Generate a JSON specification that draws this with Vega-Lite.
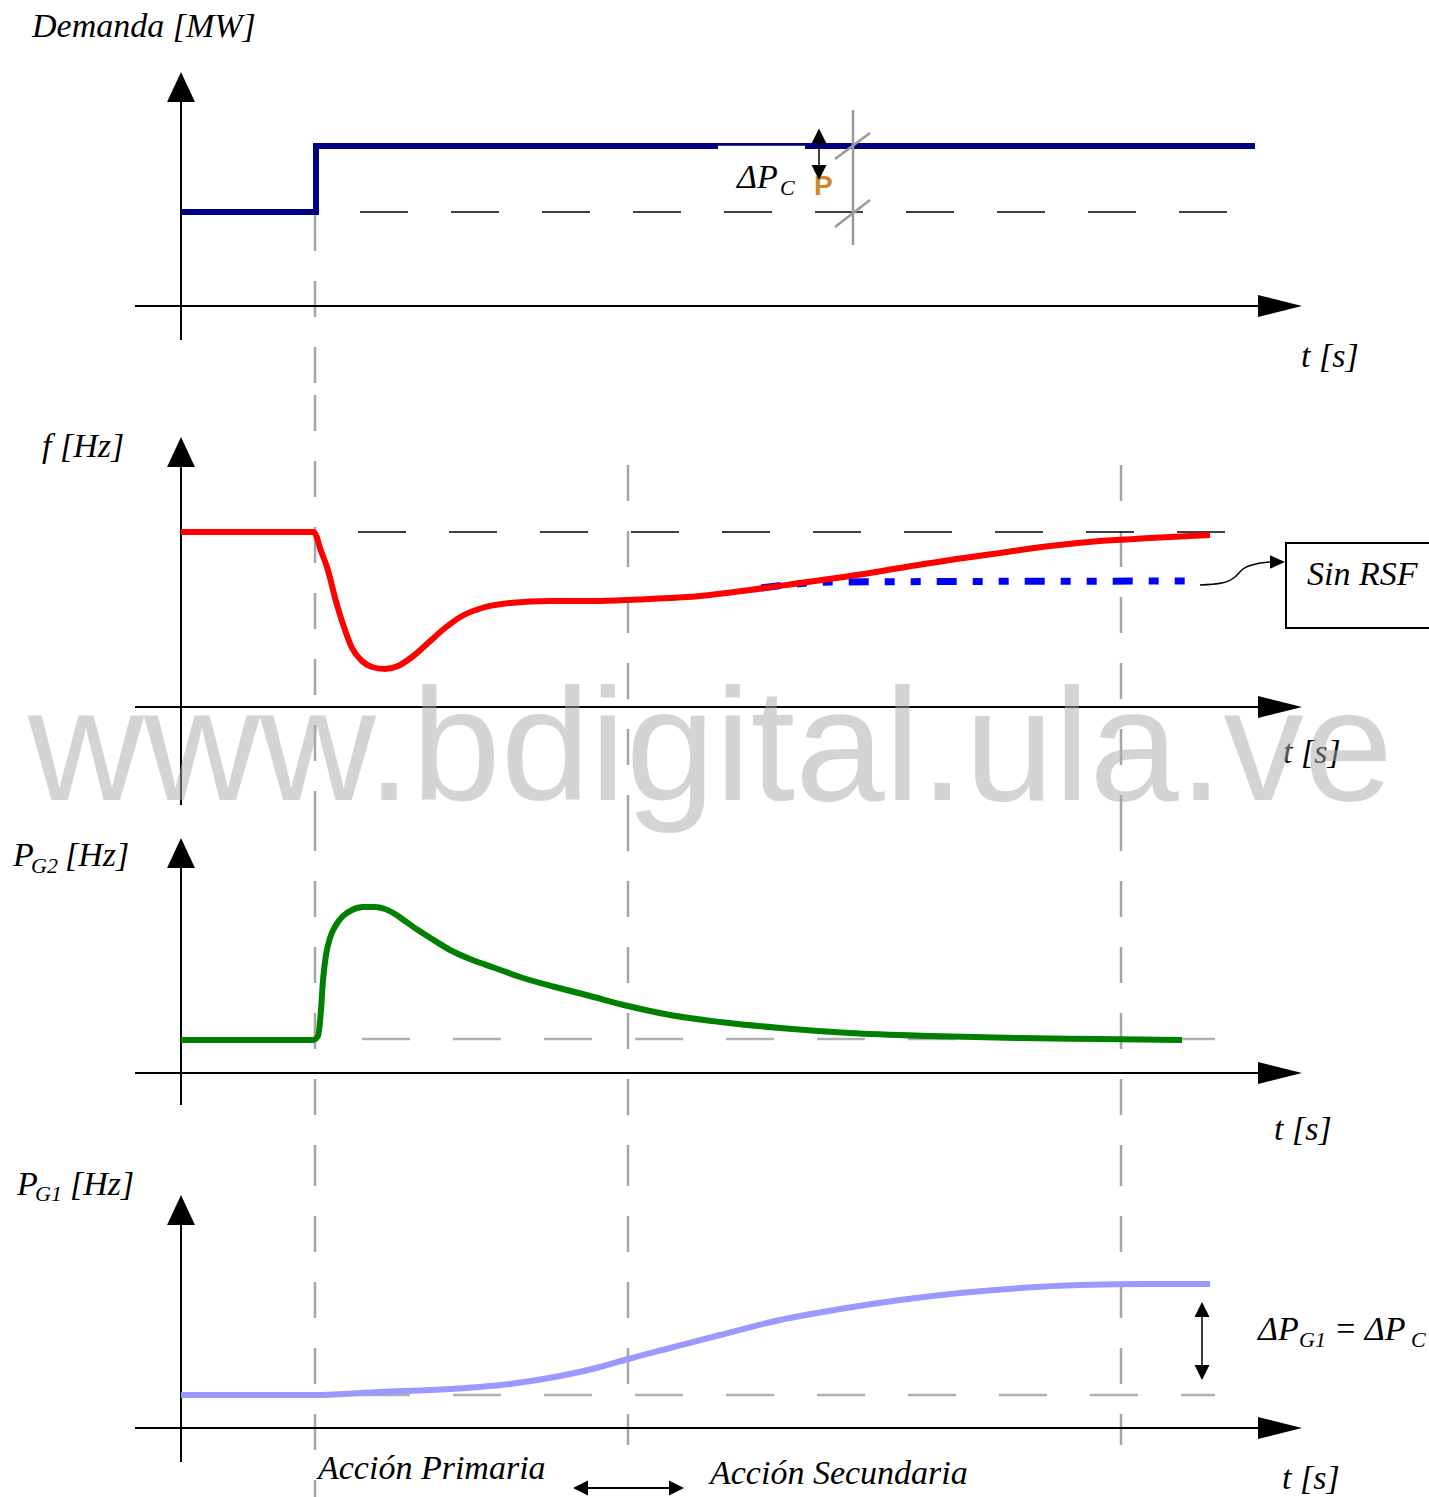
{
  "$schema": "https://vega.github.io/schema/vega-lite/v6.json",
  "padding": 0,
  "spacing": 0,
  "bounds": "flush",
  "background": "white",
  "config": {
    "view": {"stroke": null},
    "text": {"font": "Liberation Serif", "fontStyle": "italic", "align": "left", "baseline": "alphabetic", "color": "black"}
  },
  "vconcat": [
    {
      "width": 1429,
      "height": 395,
      "encoding": {
        "x": {"field": "t", "type": "quantitative", "scale": {"domain": [-18.1, 124.8], "nice": false, "zero": false}, "axis": null},
        "y": {"field": "v", "type": "quantitative", "scale": {"domain": [-8.9, 30.6], "nice": false, "zero": false}, "axis": null}
      },
      "layer": [
        {
          "data": {"values": [{"t": 13.4, "v": 9.1, "v2": -8.9}]},
          "mark": {"type": "rule", "color": "#a6a6a6", "strokeWidth": 2.5, "strokeDash": [36, 30]},
          "encoding": {"y2": {"field": "v2"}}
        },
        {
          "data": {"values": [{"t": 17.9, "t2": 104.6, "v": 9.4}]},
          "mark": {"type": "rule", "color": "black", "strokeWidth": 1.5, "strokeDash": [48, 43]},
          "encoding": {"x2": {"field": "t2"}}
        },
        {
          "data": {"values": [{"t": 0, "v": -3.4, "v2": 21.1}]},
          "mark": {"type": "rule", "color": "black", "strokeWidth": 2},
          "encoding": {"y2": {"field": "v2"}}
        },
        {
          "data": {"values": [{"t": -4.6, "t2": 108.0, "v": 0}]},
          "mark": {"type": "rule", "color": "black", "strokeWidth": 2},
          "encoding": {"x2": {"field": "t2"}}
        },
        {
          "data": {"values": [{"t": 0, "v": 21.9}]},
          "mark": {"type": "point", "shape": "M0,-1L-0.93,1L0.93,1Z", "size": 900, "filled": true, "color": "black", "opacity": 1}
        },
        {
          "data": {"values": [{"t": 109.9, "v": 0}]},
          "mark": {"type": "point", "shape": "M1,0L-1,-0.5L-1,0.5Z", "size": 1936, "filled": true, "color": "black", "opacity": 1}
        },
        {
          "data": {"values": [
            {"t": 0, "v": 9.4},
            {"t": 13.5, "v": 9.4},
            {"t": 13.5, "v": 16.0},
            {"t": 107.4, "v": 16.0}
          ]},
          "mark": {"type": "line", "color": "#000080", "strokeWidth": 6, "strokeJoin": "miter"}
        },
        {
          "data": {"values": [{"t": 53.7, "t2": 62.4, "v": 15.8}]},
          "mark": {"type": "rule", "color": "white", "strokeWidth": 4.5},
          "encoding": {"x2": {"field": "t2"}}
        },
        {
          "data": {"values": [{"t": 67.2, "v": 19.6, "v2": 6.1}]},
          "mark": {"type": "rule", "color": "#9a9a9a", "strokeWidth": 2.5},
          "encoding": {"y2": {"field": "v2"}}
        },
        {
          "data": {"values": [
            {"t": 65.4, "v": 14.7, "t2": 68.9, "v2": 17.3},
            {"t": 65.4, "v": 7.9, "t2": 68.9, "v2": 10.6}
          ]},
          "mark": {"type": "rule", "color": "#9a9a9a", "strokeWidth": 2.5},
          "encoding": {"x2": {"field": "t2"}, "y2": {"field": "v2"}}
        },
        {
          "data": {"values": [{"t": 63.3, "v": 11.1, "label": "P"}]},
          "mark": {"type": "text", "font": "Liberation Sans", "fontStyle": "normal", "fontWeight": "bold", "fontSize": 28, "color": "#c98a2e"},
          "encoding": {"text": {"field": "label"}}
        },
        {
          "data": {"values": [{"t": 63.8, "v": 16.6, "v2": 13.8}]},
          "mark": {"type": "rule", "color": "black", "strokeWidth": 1.5},
          "encoding": {"y2": {"field": "v2"}}
        },
        {
          "data": {"values": [{"t": 63.8, "v": 17.0}]},
          "mark": {"type": "point", "shape": "M0,-1L-1,1L1,1Z", "size": 225, "filled": true, "color": "black", "opacity": 1}
        },
        {
          "data": {"values": [{"t": 63.8, "v": 13.35}]},
          "mark": {"type": "point", "shape": "M0,1L-1,-1L1,-1Z", "size": 225, "filled": true, "color": "black", "opacity": 1}
        },
        {
          "data": {"values": [
            {"t": -14.9, "v": 26.9, "label": "Demanda [MW]"},
            {"t": 112.0, "v": -6.1, "label": "t [s]"},
            {"t": 55.6, "v": 11.8, "label": "ΔP"}
          ]},
          "mark": {"type": "text", "fontSize": 34},
          "encoding": {"text": {"field": "label"}}
        },
        {
          "data": {"values": [{"t": 59.9, "v": 11.1, "label": "C"}]},
          "mark": {"type": "text", "fontSize": 22},
          "encoding": {"text": {"field": "label"}}
        }
      ]
    },
    {
      "width": 1429,
      "height": 420,
      "encoding": {
        "x": {"field": "t", "type": "quantitative", "scale": {"domain": [-18.1, 124.8], "nice": false, "zero": false}, "axis": null},
        "y": {"field": "v", "type": "quantitative", "scale": {"domain": [-10.8, 31.2], "nice": false, "zero": false}, "axis": null}
      },
      "layer": [
        {
          "data": {"values": [
            {"t": 13.4, "v": 31.2, "v2": -10.8},
            {"t": 44.7, "v": 24.2, "v2": -10.8},
            {"t": 94.0, "v": 24.2, "v2": -10.8}
          ]},
          "mark": {"type": "rule", "color": "#a6a6a6", "strokeWidth": 2.5, "strokeDash": [36, 30]},
          "encoding": {"y2": {"field": "v2"}}
        },
        {
          "data": {"values": [{"t": 17.7, "t2": 104.4, "v": 17.5}]},
          "mark": {"type": "rule", "color": "black", "strokeWidth": 1.5, "strokeDash": [48, 43]},
          "encoding": {"x2": {"field": "t2"}}
        },
        {
          "data": {"values": [{"t": 0, "v": -9.8, "v2": 24.7}]},
          "mark": {"type": "rule", "color": "black", "strokeWidth": 2},
          "encoding": {"y2": {"field": "v2"}}
        },
        {
          "data": {"values": [{"t": -4.6, "t2": 108.0, "v": 0}]},
          "mark": {"type": "rule", "color": "black", "strokeWidth": 2},
          "encoding": {"x2": {"field": "t2"}}
        },
        {
          "data": {"values": [{"t": 0, "v": 25.5}]},
          "mark": {"type": "point", "shape": "M0,-1L-0.93,1L0.93,1Z", "size": 900, "filled": true, "color": "black", "opacity": 1}
        },
        {
          "data": {"values": [{"t": 109.9, "v": 0}]},
          "mark": {"type": "point", "shape": "M1,0L-1,-0.5L-1,0.5Z", "size": 1936, "filled": true, "color": "black", "opacity": 1}
        },
        {
          "data": {"values": [
            {"t": 58.0, "v": 11.9},
            {"t": 61.5, "v": 12.3},
            {"t": 65.0, "v": 12.5},
            {"t": 101.9, "v": 12.6}
          ]},
          "mark": {"type": "line", "color": "#0000ff", "strokeWidth": 7, "strokeDash": [20, 16, 10, 16, 10, 16], "interpolate": "monotone"}
        },
        {
          "data": {"values": [
            {"t": 0, "v": 17.5},
            {"t": 13.2, "v": 17.5},
            {"t": 13.5, "v": 17.2},
            {"t": 13.9, "v": 15.9},
            {"t": 14.6, "v": 14.0},
            {"t": 15.6, "v": 10.2},
            {"t": 16.4, "v": 7.7},
            {"t": 17.1, "v": 5.9},
            {"t": 18.1, "v": 4.6},
            {"t": 19.1, "v": 4.0},
            {"t": 20.4, "v": 3.8},
            {"t": 21.7, "v": 4.1},
            {"t": 23.1, "v": 5.0},
            {"t": 24.7, "v": 6.4},
            {"t": 26.4, "v": 7.9},
            {"t": 28.1, "v": 9.1},
            {"t": 30.1, "v": 9.9},
            {"t": 32.9, "v": 10.4},
            {"t": 36.9, "v": 10.6},
            {"t": 41.9, "v": 10.6},
            {"t": 46.9, "v": 10.8},
            {"t": 51.9, "v": 11.1},
            {"t": 56.9, "v": 11.7},
            {"t": 61.9, "v": 12.4},
            {"t": 66.9, "v": 13.1},
            {"t": 71.9, "v": 13.9},
            {"t": 76.9, "v": 14.7},
            {"t": 81.9, "v": 15.4},
            {"t": 86.9, "v": 16.1},
            {"t": 91.9, "v": 16.6},
            {"t": 96.9, "v": 16.9},
            {"t": 102.9, "v": 17.2}
          ]},
          "mark": {"type": "line", "color": "#ff0000", "strokeWidth": 6, "interpolate": "monotone"}
        },
        {
          "data": {"values": [
            {"t": 101.9, "v": 12.2},
            {"t": 104.1, "v": 12.4},
            {"t": 105.4, "v": 13.0},
            {"t": 106.2, "v": 13.8},
            {"t": 107.5, "v": 14.3},
            {"t": 109.3, "v": 14.5}
          ]},
          "mark": {"type": "line", "color": "black", "strokeWidth": 1.5, "interpolate": "monotone"}
        },
        {
          "data": {"values": [{"t": 109.65, "v": 14.5}]},
          "mark": {"type": "point", "shape": "M1,0L-1,-0.9L-1,0.9Z", "size": 225, "filled": true, "color": "black", "opacity": 1}
        },
        {
          "data": {"values": [{"t": 110.5, "t2": 125.5, "v": 16.4, "v2": 7.9}]},
          "mark": {"type": "rect", "fill": null, "fillOpacity": 0, "stroke": "black", "strokeWidth": 2},
          "encoding": {"x2": {"field": "t2"}, "y2": {"field": "v2"}}
        },
        {
          "data": {"values": [
            {"t": -13.9, "v": 25.0, "label": "f [Hz]"},
            {"t": 110.2, "v": -5.6, "label": "t [s]"},
            {"t": 112.6, "v": 12.2, "label": "Sin RSF"}
          ]},
          "mark": {"type": "text", "fontSize": 34},
          "encoding": {"text": {"field": "label"}}
        },
        {
          "data": {"values": [{"t": -15.3, "v": -9.3, "label": "www.bdigital.ula.ve"}]},
          "mark": {"type": "text", "font": "Liberation Sans", "fontStyle": "normal", "fontSize": 160.5, "color": "#aaaaaa", "opacity": 0.5},
          "encoding": {"text": {"field": "label"}}
        }
      ]
    },
    {
      "width": 1429,
      "height": 335,
      "encoding": {
        "x": {"field": "t", "type": "quantitative", "scale": {"domain": [-18.1, 124.8], "nice": false, "zero": false}, "axis": null},
        "y": {"field": "v", "type": "quantitative", "scale": {"domain": [-7.7, 25.8], "nice": false, "zero": false}, "axis": null}
      },
      "layer": [
        {
          "data": {"values": [
            {"t": 13.4, "v": 25.8, "v2": -7.7},
            {"t": 44.7, "v": 25.8, "v2": -7.7},
            {"t": 94.0, "v": 25.8, "v2": -7.7}
          ]},
          "mark": {"type": "rule", "color": "#a6a6a6", "strokeWidth": 2.5, "strokeDash": [36, 30]},
          "encoding": {"y2": {"field": "v2"}}
        },
        {
          "data": {"values": [{"t": 18.1, "t2": 103.4, "v": 3.4}]},
          "mark": {"type": "rule", "color": "#b0b0b0", "strokeWidth": 2.5, "strokeDash": [48, 43]},
          "encoding": {"x2": {"field": "t2"}}
        },
        {
          "data": {"values": [{"t": 0, "v": -3.2, "v2": 21.1}]},
          "mark": {"type": "rule", "color": "black", "strokeWidth": 2},
          "encoding": {"y2": {"field": "v2"}}
        },
        {
          "data": {"values": [{"t": -4.6, "t2": 108.0, "v": 0}]},
          "mark": {"type": "rule", "color": "black", "strokeWidth": 2},
          "encoding": {"x2": {"field": "t2"}}
        },
        {
          "data": {"values": [{"t": 0, "v": 22.0}]},
          "mark": {"type": "point", "shape": "M0,-1L-0.93,1L0.93,1Z", "size": 900, "filled": true, "color": "black", "opacity": 1}
        },
        {
          "data": {"values": [{"t": 109.9, "v": 0}]},
          "mark": {"type": "point", "shape": "M1,0L-1,-0.5L-1,0.5Z", "size": 1936, "filled": true, "color": "black", "opacity": 1}
        },
        {
          "data": {"values": [
            {"t": 0, "v": 3.3},
            {"t": 13.2, "v": 3.3},
            {"t": 13.7, "v": 3.7},
            {"t": 14.0, "v": 6.3},
            {"t": 14.2, "v": 9.3},
            {"t": 14.5, "v": 11.8},
            {"t": 14.9, "v": 13.5},
            {"t": 15.5, "v": 14.8},
            {"t": 16.2, "v": 15.7},
            {"t": 17.1, "v": 16.3},
            {"t": 18.2, "v": 16.6},
            {"t": 19.4, "v": 16.6},
            {"t": 20.4, "v": 16.4},
            {"t": 21.4, "v": 15.9},
            {"t": 22.4, "v": 15.2},
            {"t": 23.7, "v": 14.3},
            {"t": 25.1, "v": 13.4},
            {"t": 26.9, "v": 12.3},
            {"t": 28.9, "v": 11.4},
            {"t": 31.4, "v": 10.5},
            {"t": 33.9, "v": 9.6},
            {"t": 37.4, "v": 8.6},
            {"t": 40.9, "v": 7.7},
            {"t": 44.7, "v": 6.7},
            {"t": 48.9, "v": 5.8},
            {"t": 53.9, "v": 5.1},
            {"t": 59.9, "v": 4.5},
            {"t": 66.9, "v": 4.0},
            {"t": 74.9, "v": 3.7},
            {"t": 83.9, "v": 3.5},
            {"t": 91.9, "v": 3.4},
            {"t": 100.1, "v": 3.3}
          ]},
          "mark": {"type": "line", "color": "#008000", "strokeWidth": 6, "interpolate": "monotone"}
        },
        {
          "data": {"values": [
            {"t": -16.8, "v": 20.7, "label": "P"},
            {"t": -11.6, "v": 20.7, "label": "[Hz]"},
            {"t": 109.3, "v": -6.7, "label": "t [s]"}
          ]},
          "mark": {"type": "text", "fontSize": 34},
          "encoding": {"text": {"field": "label"}}
        },
        {
          "data": {"values": [{"t": -15.0, "v": 20.0, "label": "G2"}]},
          "mark": {"type": "text", "fontSize": 22},
          "encoding": {"text": {"field": "label"}}
        }
      ]
    },
    {
      "width": 1429,
      "height": 347,
      "encoding": {
        "x": {"field": "t", "type": "quantitative", "scale": {"domain": [-18.1, 124.8], "nice": false, "zero": false}, "axis": null},
        "y": {"field": "v", "type": "quantitative", "scale": {"domain": [-6.9, 27.8], "nice": false, "zero": false}, "axis": null}
      },
      "layer": [
        {
          "data": {"values": [
            {"t": 13.4, "v": 27.8, "v2": -6.9},
            {"t": 44.7, "v": 27.8, "v2": -1.7},
            {"t": 94.0, "v": 27.8, "v2": -1.7}
          ]},
          "mark": {"type": "rule", "color": "#a6a6a6", "strokeWidth": 2.5, "strokeDash": [36, 30]},
          "encoding": {"y2": {"field": "v2"}}
        },
        {
          "data": {"values": [{"t": 18.1, "t2": 103.4, "v": 3.3}]},
          "mark": {"type": "rule", "color": "#b0b0b0", "strokeWidth": 2.5, "strokeDash": [48, 43]},
          "encoding": {"x2": {"field": "t2"}}
        },
        {
          "data": {"values": [{"t": 0, "v": -3.4, "v2": 21.0}]},
          "mark": {"type": "rule", "color": "black", "strokeWidth": 2},
          "encoding": {"y2": {"field": "v2"}}
        },
        {
          "data": {"values": [
            {"t": -4.6, "t2": 108.0, "v": 0},
            {"t": 40.1, "t2": 49.4, "v": -6.0}
          ]},
          "mark": {"type": "rule", "color": "black", "strokeWidth": 2},
          "encoding": {"x2": {"field": "t2"}}
        },
        {
          "data": {"values": [{"t": 102.1, "v": 11.6, "v2": 5.8}]},
          "mark": {"type": "rule", "color": "black", "strokeWidth": 1.5},
          "encoding": {"y2": {"field": "v2"}}
        },
        {
          "data": {"values": [{"t": 0, "v": 21.8}]},
          "mark": {"type": "point", "shape": "M0,-1L-0.93,1L0.93,1Z", "size": 900, "filled": true, "color": "black", "opacity": 1}
        },
        {
          "data": {"values": [{"t": 109.9, "v": 0}]},
          "mark": {"type": "point", "shape": "M1,0L-1,-0.5L-1,0.5Z", "size": 1936, "filled": true, "color": "black", "opacity": 1}
        },
        {
          "data": {"values": [{"t": 102.1, "v": 11.85}]},
          "mark": {"type": "point", "shape": "M0,-1L-1,1L1,1Z", "size": 225, "filled": true, "color": "black", "opacity": 1}
        },
        {
          "data": {"values": [{"t": 102.1, "v": 5.55}]},
          "mark": {"type": "point", "shape": "M0,1L-1,-1L1,-1Z", "size": 225, "filled": true, "color": "black", "opacity": 1}
        },
        {
          "data": {"values": [{"t": 49.55, "v": -6.0}]},
          "mark": {"type": "point", "shape": "M1,0L-1,-1L-1,1Z", "size": 225, "filled": true, "color": "black", "opacity": 1}
        },
        {
          "data": {"values": [{"t": 39.95, "v": -6.0}]},
          "mark": {"type": "point", "shape": "M-1,0L1,-1L1,1Z", "size": 225, "filled": true, "color": "black", "opacity": 1}
        },
        {
          "data": {"values": [
            {"t": 0, "v": 3.3},
            {"t": 13.4, "v": 3.3},
            {"t": 19.9, "v": 3.6},
            {"t": 26.9, "v": 3.9},
            {"t": 32.9, "v": 4.4},
            {"t": 37.9, "v": 5.2},
            {"t": 41.9, "v": 6.1},
            {"t": 44.7, "v": 6.9},
            {"t": 48.9, "v": 8.0},
            {"t": 53.9, "v": 9.3},
            {"t": 59.9, "v": 10.8},
            {"t": 65.9, "v": 11.9},
            {"t": 71.9, "v": 12.8},
            {"t": 77.9, "v": 13.5},
            {"t": 83.9, "v": 14.0},
            {"t": 89.9, "v": 14.3},
            {"t": 96.9, "v": 14.4},
            {"t": 102.9, "v": 14.4}
          ]},
          "mark": {"type": "line", "color": "#9999ff", "strokeWidth": 6, "interpolate": "monotone"}
        },
        {
          "data": {"values": [
            {"t": -16.4, "v": 23.3, "label": "P"},
            {"t": -11.1, "v": 23.3, "label": "[Hz]"},
            {"t": 110.1, "v": -6.1, "label": "t [s]"},
            {"t": 107.7, "v": 8.8, "label": "ΔP"},
            {"t": 115.3, "v": 8.8, "label": "= ΔP"},
            {"t": 13.7, "v": -5.1, "label": "Acción Primaria"},
            {"t": 52.9, "v": -5.6, "label": "Acción Secundaria"}
          ]},
          "mark": {"type": "text", "fontSize": 34},
          "encoding": {"text": {"field": "label"}}
        },
        {
          "data": {"values": [
            {"t": -14.6, "v": 22.7, "label": "G1"},
            {"t": 111.8, "v": 8.1, "label": "G1"},
            {"t": 123.0, "v": 8.1, "label": "C"}
          ]},
          "mark": {"type": "text", "fontSize": 22},
          "encoding": {"text": {"field": "label"}}
        }
      ]
    }
  ]
}
